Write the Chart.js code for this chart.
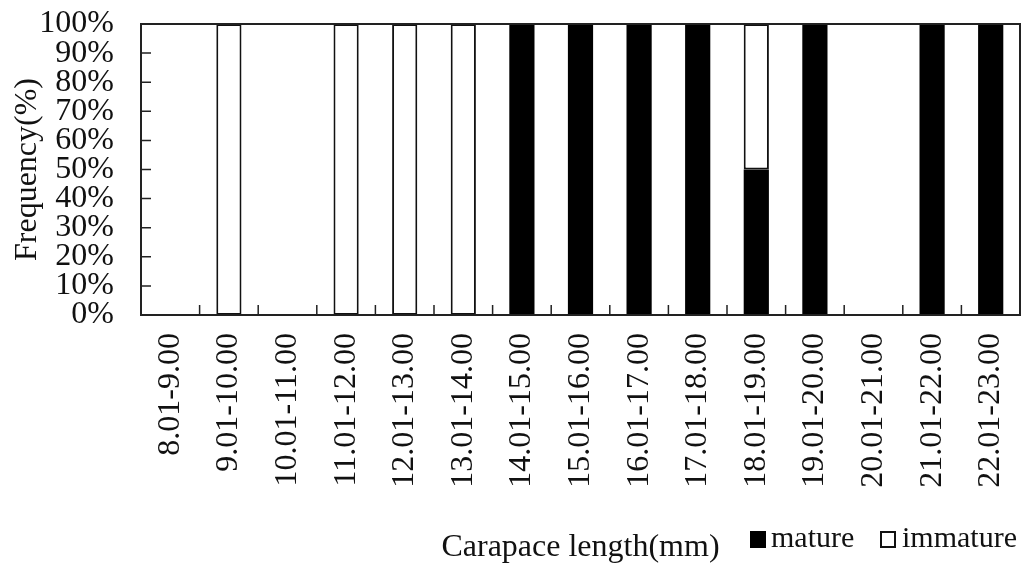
<!DOCTYPE html>
<html>
<head>
<meta charset="utf-8">
<script src="https://cdn.jsdelivr.net/npm/chart.js@4.4.1/dist/chart.umd.min.js"></script>
<style>
	body { margin: 0; background: #fff; }
	#wrap { position: relative; width: 1021px; height: 569px; }
	.leg {
		position: absolute; top: 520px;
		font-family: "Liberation Serif", "Times New Roman", serif;
		font-size: 30px; color: #111; white-space: nowrap;
	}
	.box { position: absolute; width: 16px; height: 17px; top: 531px; box-sizing: border-box; }
</style>
</head>
<body>
<div id="wrap">
	<canvas id="chartFreq" width="1021" height="569"></canvas>
	<span class="box" style="left:750px;background:#000"></span>
	<span class="leg" style="left:771px">mature</span>
	<span class="box" style="left:880px;background:#fff;border:2px solid #111"></span>
	<span class="leg" style="left:902px">immature</span>
</div>
<script>
// carapace length classes (mm)
let clases = ["8.01-9.00", "9.01-10.00", "10.01-11.00", "11.01-12.00", "12.01-13.00",
	"13.01-14.00", "14.01-15.00", "15.01-16.00", "16.01-17.00", "17.01-18.00",
	"18.01-19.00", "19.01-20.00", "20.01-21.00", "21.01-22.00", "22.01-23.00"];
// percentage of each class
let mature = [0, 0, 0, 0, 0, 0, 100, 100, 100, 100, 50, 100, 0, 100, 100];
let immature = [0, 100, 0, 100, 100, 100, 0, 0, 0, 0, 50, 0, 0, 0, 0];
let yTicks = [0, 10, 20, 30, 40, 50, 60, 70, 80, 90, 100];

const serif = "'Liberation Serif', 'Times New Roman', serif";
const lineCol = "#222";

// frame + inward tick marks like the original figure
const marcas = {
	id: "marcas",
	afterDraw(chart) {
		const ctx = chart.ctx;
		const a = chart.chartArea;
		const xs = chart.scales.x;
		const ys = chart.scales.y;
		ctx.save();
		ctx.strokeStyle = lineCol;
		ctx.lineWidth = 1.5;
		ctx.beginPath();
		yTicks.forEach(v => {
			let y = ys.getPixelForValue(v);
			ctx.moveTo(a.left, y);
			ctx.lineTo(a.left + 10, y);
		});
		for (let i = 1; i < clases.length; i++) {
			let x = (xs.getPixelForTick(i - 1) + xs.getPixelForTick(i)) / 2;
			ctx.moveTo(x, a.bottom);
			ctx.lineTo(x, a.bottom - 10);
		}
		ctx.stroke();
		ctx.lineWidth = 2;
		ctx.strokeRect(a.left, a.top, a.right - a.left, a.bottom - a.top);
		ctx.restore();
	}
};

const ctx = document.getElementById("chartFreq");
const chartFreq = new Chart(ctx, {
	type: "bar",
	data: {
		labels: clases,
		datasets: [
			{
				label: "mature",
				data: mature,
				backgroundColor: "#000",
				borderColor: "#000",
				borderWidth: 0
			},
			{
				label: "immature",
				data: immature,
				backgroundColor: "#fff",
				borderColor: "#111",
				borderWidth: 2,
				borderSkipped: false
			}
		]
	},
	options: {
		responsive: false,
		animation: false,
		barPercentage: 0.43,
		categoryPercentage: 1,
		layout: { padding: { top: 24, right: 1, left: 0, bottom: 0 } },
		plugins: { legend: { display: false }, tooltip: { enabled: false } },
		scales: {
			x: {
				stacked: true,
				grid: { display: false, drawTicks: false },
				border: { display: true, color: lineCol, width: 2 },
				ticks: {
					autoSkip: false, maxRotation: 90, minRotation: 90, padding: 18,
					color: "#111", font: { family: serif, size: 32 }
				},
				title: {
					display: true, text: "Carapace length(mm)", color: "#111",
					font: { family: serif, size: 32 }, padding: { top: 0, bottom: 2 }
				},
				afterFit(s) {
					s.height = 254;
					s.paddingLeft = 0;
					s.paddingRight = 0;
				}
			},
			y: {
				stacked: true,
				min: 0,
				max: 100,
				grid: { display: false, drawTicks: false },
				border: { display: true, color: lineCol, width: 2 },
				afterBuildTicks(s) { s.ticks = yTicks.map(v => ({ value: v })); },
				ticks: {
					autoSkip: false, padding: 27, color: "#111",
					font: { family: serif, size: 32 },
					callback: v => v + "%"
				},
				title: {
					display: true, text: "Frequency(%)", color: "#111",
					font: { family: serif, size: 32 }, padding: { top: 8, bottom: 0 }
				},
				afterFit(s) {
					s.width = 141;
					s.paddingTop = 0;
					s.paddingBottom = 0;
				}
			}
		}
	},
	plugins: [marcas]
});
</script>
</body>
</html>
